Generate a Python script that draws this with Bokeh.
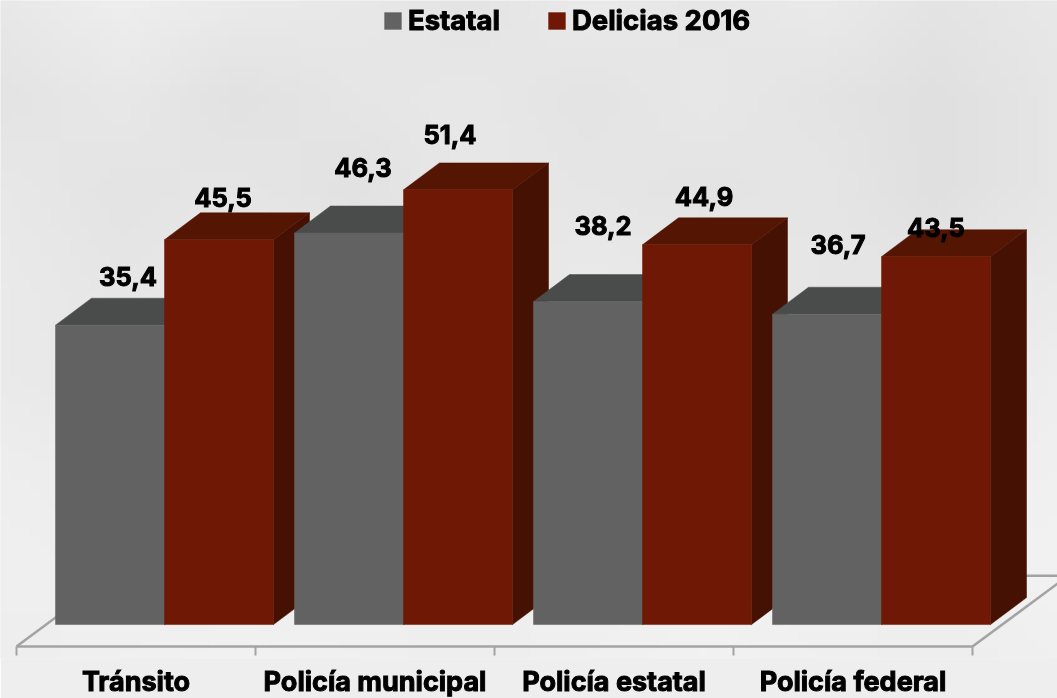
import numpy as np
from bokeh.embed import file_html
from bokeh.resources import INLINE
from bokeh.plotting import figure
from bokeh.models import Range1d, LinearAxis, FixedTicker, Legend, LegendItem
from bokeh.core.properties import value

categories = ["Tránsito", "Policía municipal", "Policía estatal", "Policía federal"]
estatal = [35.4, 46.3, 38.2, 36.7]
delicias = [45.5, 51.4, 44.9, 43.5]
estatal_labels = ["35,4", "46,3", "38,2", "36,7"]
delicias_labels = ["45,5", "51,4", "44,9", "43,5"]
series_names = ["Estatal", "Delicias 2016"]

# Light background shades (coarse reading of the mottled photo, rows top to bottom)
bg_rows = [
    [232, 238, 234, 232, 228, 234, 230, 234, 228, 232],
    [228, 232, 226, 230, 232, 228, 232, 228, 224, 230],
    [232, 228, 230, 226, 232, 230, 228, 230, 224, 230],
    [234, 230, 234, 232, 230, 234, 232, 230, 230, 234],
    [234, 232, 234, 236, 232, 234, 232, 234, 232, 238],
    [238, 236, 238, 236, 238, 236, 238, 236, 238, 240],
    [240, 238, 236, 238, 240, 238, 240, 238, 240, 242],
    [238, 240, 242, 240, 238, 240, 242, 240, 238, 240],
]

W, H, FH = 1057, 700, 659
PX_PER_UNIT = 8.47
BAND = 239
BASE_Y = 625
dx_band = 36 / BAND          # depth offset of a bar, in bands
dy_val = 27 / PX_PER_UNIT    # depth offset of a bar, in value units
bar_w = 109 / BAND
inset = 39 / BAND

x0 = -16 / BAND
x1 = (W - 16) / BAND
y1 = BASE_Y / PX_PER_UNIT
y0 = -(FH - BASE_Y) / PX_PER_UNIT

p = figure(width=W, height=H, output_backend="svg", toolbar_location=None,
           x_range=Range1d(x0, x1), y_range=Range1d(y0, y1),
           x_axis_type=None, y_axis_type=None,
           min_border=0, min_border_bottom=H - FH, outline_line_color=None,
           background_fill_color="#ebebeb", border_fill_color="#eeeeee",
           styles={"position": "fixed", "left": "0", "top": "0"})
p.grid.visible = False

# background
bg = np.array(bg_rows, dtype=float)[::-1]
ny, nx = 70, 106
rows = np.array([np.interp(np.linspace(0, bg.shape[1] - 1, nx), np.arange(bg.shape[1]), r) for r in bg])
img = np.array([np.interp(np.linspace(0, bg.shape[0] - 1, ny), np.arange(bg.shape[0]), rows[:, j]) for j in range(nx)]).T
rgba = np.zeros((ny, nx, 4), dtype=np.uint8)
rgba[..., 0] = rgba[..., 1] = rgba[..., 2] = img.astype(np.uint8)
rgba[..., 3] = 255
view = rgba.view(dtype=np.uint32).reshape(ny, nx)
p.image_rgba(image=[view], x=x0, y=y0, dw=x1 - x0, dh=y1 - y0)

# floor
fy = -22 / PX_PER_UNIT
floor_c = "#a3a3a3"
n = len(categories)
p.line([0, n], [fy, fy], line_color=floor_c, line_width=2.5)
p.segment(x0=list(range(n + 1)), y0=[fy] * (n + 1), x1=list(range(n + 1)),
          y1=[fy - 9 / PX_PER_UNIT] * (n + 1), line_color=floor_c, line_width=2)
slope_x, slope_y = 85 / BAND, 63 / PX_PER_UNIT
p.line([0, slope_x], [fy, fy + slope_y], line_color=floor_c, line_width=2.5)
p.line([n, n + slope_x * 1.3], [fy, fy + slope_y * 1.3], line_color=floor_c, line_width=2.5)
p.line([n, n + slope_x * 1.3], [fy + 71 / PX_PER_UNIT] * 2, line_color=floor_c, line_width=2.5)

styles = [
    dict(front="#626262", top="#4a4c4c", side="#3f4141"),
    dict(front="#6e1805", top="#551503", side="#451103"),
]
legend_refs = {}
for i in range(n):
    for s, vals in enumerate((estatal, delicias)):
        l = i + inset + s * bar_w
        r = l + bar_w
        v = vals[i]
        st = styles[s]
        p.patch([r, r + dx_band, r + dx_band, r], [0, dy_val, v + dy_val, v],
                fill_color=st["side"], line_color=st["side"], line_width=0.5)
        p.patch([l, l + dx_band, r + dx_band, r], [v, v + dy_val, v + dy_val, v],
                fill_color=st["top"], line_color=st["top"], line_width=0.5)
        q = p.quad(left=l, right=r, bottom=0, top=v, fill_color=st["front"],
                   line_color=st["front"], line_width=0.5)
        legend_refs.setdefault(s, q)

# value labels, placed by hand in the original
lab_x = [i + inset + 0.5 * bar_w for i in range(n)] + [i + inset + 1.5 * bar_w for i in range(n)]
lab_y = estatal + delicias
lab_t = estatal_labels + delicias_labels
off_x = [18, 14, 15, 11, 4, -8, 7, 0]
off_y = [49, 65, 76, 70, 42, 55, 48, 29]
p.text(x=lab_x, y=lab_y, text=lab_t, x_offset=off_x, y_offset=[-o for o in off_y],
       text_font=value("Inter"), text_font_style="bold", text_font_size="25.5px",
       text_color="#000000", text_outline_color="#000000", text_align="center", text_baseline="middle")

axis = LinearAxis(ticker=FixedTicker(ticks=[i + 0.5 for i in range(n)]),
                  major_label_overrides={i + 0.5: c for i, c in enumerate(categories)},
                  major_tick_line_color=None, minor_tick_line_color=None, axis_line_color=None,
                  major_label_standoff=0, major_label_text_font="Inter",
                  major_label_text_font_style="bold", major_label_text_font_size="27px",
                  major_label_text_color="#000000", major_label_text_outline_color="#000000")
p.add_layout(axis, "below")

legend = Legend(items=[LegendItem(label=series_names[k], renderers=[legend_refs[k]]) for k in (0, 1)],
                orientation="horizontal", location=(382, FH - 38), glyph_width=21, glyph_height=21,
                label_standoff=5, spacing=46, padding=0, margin=0,
                background_fill_alpha=0, border_line_color=None,
                label_text_font="Inter", label_text_font_style="bold",
                label_text_font_size="27.5px", label_text_color="#000000",
                label_text_outline_color="#000000")
p.add_layout(legend, "center")

open("out.html", "w").write(file_html(p, INLINE))
